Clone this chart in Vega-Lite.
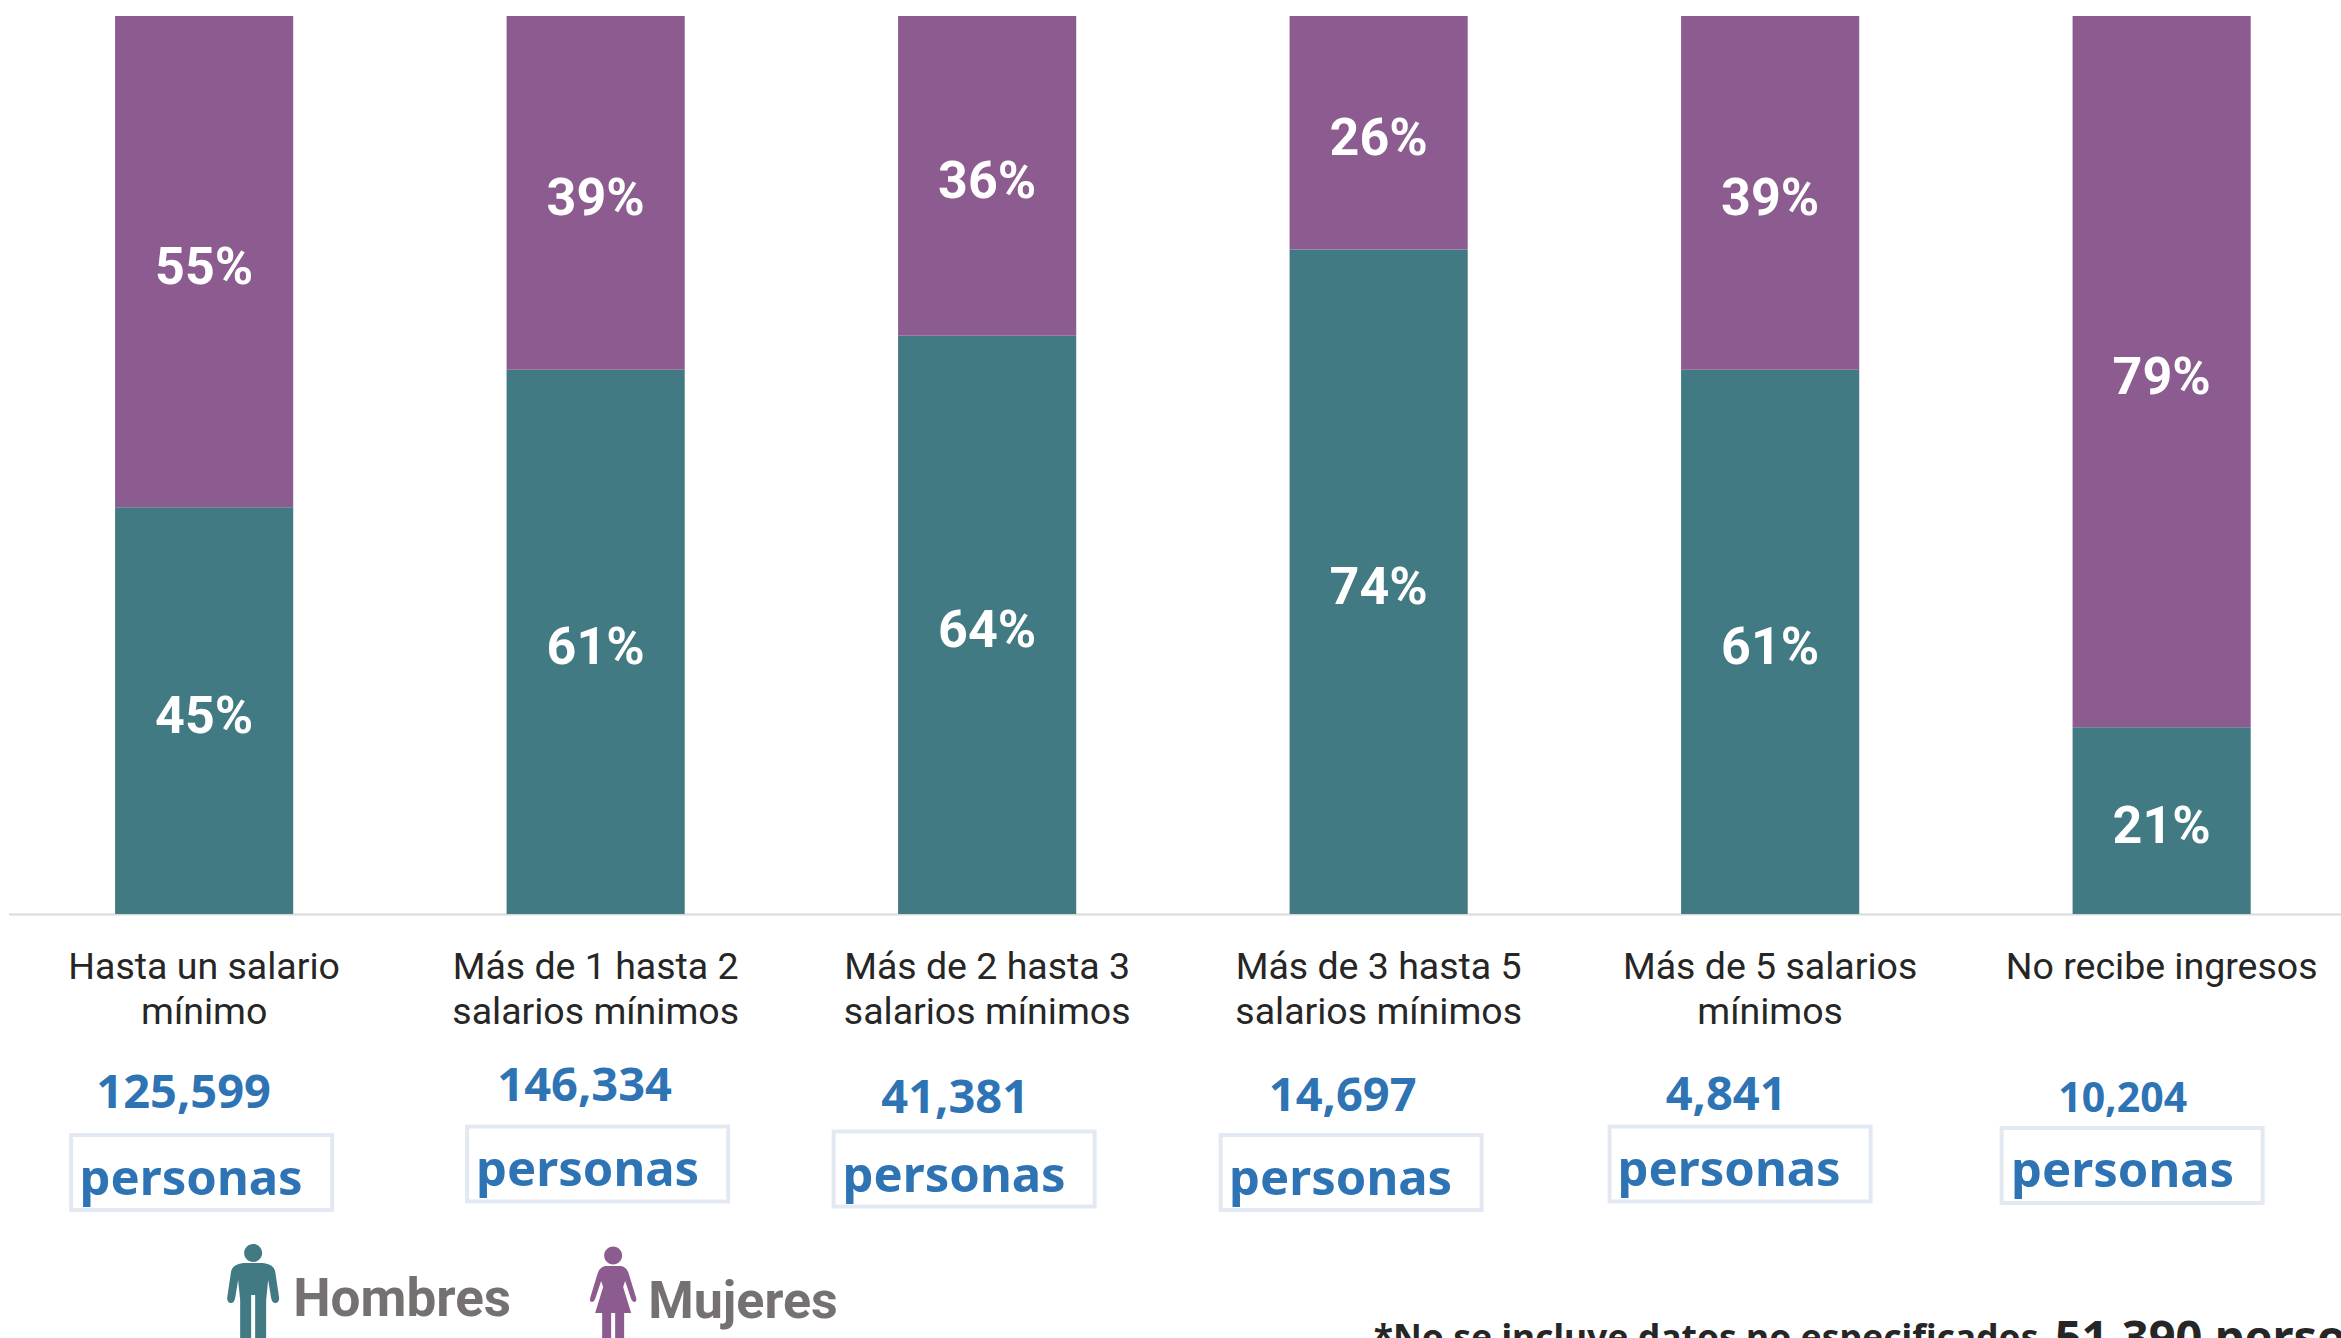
{"$schema":"https://vega.github.io/schema/vega-lite/v6.json","width":2341,"height":898,"autosize":"none","padding":{"left":0,"right":0,"top":16,"bottom":424},"background":"white","config":{"view":{"stroke":null}},
"datasets":{"shares":[
{"income":"Hasta un salario|mínimo","sex":"Hombres","share":0.453},{"income":"Hasta un salario|mínimo","sex":"Mujeres","share":0.547},
{"income":"Más de 1 hasta 2|salarios mínimos","sex":"Hombres","share":0.606},{"income":"Más de 1 hasta 2|salarios mínimos","sex":"Mujeres","share":0.394},
{"income":"Más de 2 hasta 3|salarios mínimos","sex":"Hombres","share":0.644},{"income":"Más de 2 hasta 3|salarios mínimos","sex":"Mujeres","share":0.356},
{"income":"Más de 3 hasta 5|salarios mínimos","sex":"Hombres","share":0.74},{"income":"Más de 3 hasta 5|salarios mínimos","sex":"Mujeres","share":0.26},
{"income":"Más de 5 salarios|mínimos","sex":"Hombres","share":0.606},{"income":"Más de 5 salarios|mínimos","sex":"Mujeres","share":0.394},
{"income":"No recibe ingresos","sex":"Hombres","share":0.208},{"income":"No recibe ingresos","sex":"Mujeres","share":0.792}],
"totals":[{"income":"Hasta un salario|mínimo","persons":125599},{"income":"Más de 1 hasta 2|salarios mínimos","persons":146334},{"income":"Más de 2 hasta 3|salarios mínimos","persons":41381},{"income":"Más de 3 hasta 5|salarios mínimos","persons":14697},{"income":"Más de 5 salarios|mínimos","persons":4841},{"income":"No recibe ingresos","persons":10204}],
"legendA":[{"income":"Hasta un salario|mínimo","sex":"Hombres"}],"legendB":[{"income":"Hasta un salario|mínimo","sex":"Mujeres"}],
"noteA":[{"income":"No recibe ingresos","note":"*No se incluye datos no especificados,"}],"noteB":[{"income":"No recibe ingresos","note":"51,390 personas"}]},
"encoding":{"x":{"field":"income","type":"nominal","sort":null,"title":null,"scale":{"domain":["Hasta un salario|mínimo","Más de 1 hasta 2|salarios mínimos","Más de 2 hasta 3|salarios mínimos","Más de 3 hasta 5|salarios mínimos","Más de 5 salarios|mínimos","No recibe ingresos"],"range":[8.4,2357.4],"paddingInner":0.545,"paddingOuter":0.2725},"axis":{"labelExpr":"split(datum.label,'|')","labelAngle":0,"labelFont":"Roboto","labelFontSize":37.5,"labelColor":"#262626","labelLineHeight":45,"labelPadding":34,"labelLimit":0,"ticks":false,"domainColor":"#d9d9d9","domainWidth":2,"title":null,"labelBaseline":"top"}}},
"layer":[
{"data":{"name":"shares"},"mark":{"type":"bar"},"encoding":{"y":{"field":"share","type":"quantitative","stack":"zero","axis":null,"scale":{"domain":[0,1],"nice":false}},"color":{"field":"sex","type":"nominal","legend":null,"scale":{"domain":["Hombres","Mujeres"],"range":["#427a83","#8c5c91"]}},"order":{"field":"sex","type":"nominal","sort":"ascending"}}},
{"data":{"name":"shares"},"mark":{"type":"text","font":"Roboto","fontWeight":"bold","fontSize":52,"color":"white","baseline":"middle","dy":6},"encoding":{"y":{"field":"share","type":"quantitative","stack":"zero","bandPosition":0.5,"axis":null,"scale":{"domain":[0,1],"nice":false}},"text":{"field":"share","type":"quantitative","format":".0%"},"order":{"field":"sex","type":"nominal","sort":"ascending"},"detail":{"field":"sex"}}},
{"encoding":{"y":{"datum":0,"type":"quantitative","scale":{"domain":[0,1],"nice":false},"axis":null}},"layer":[
{"data":{"name":"totals"},"transform":[{"filter":"datum.persons==125599"}],"mark":{"type":"point","shape":"M-1,-.287H1V.287H-1Z","size":68121,"filled":false,"stroke":"#e3e9f3","strokeWidth":4,"opacity":1,"xOffset":-2.5,"yOffset":258.5}},
{"data":{"name":"totals"},"transform":[{"filter":"datum.persons==146334"}],"mark":{"type":"point","shape":"M-1,-.287H1V.287H-1Z","size":68121,"filled":false,"stroke":"#e3e9f3","strokeWidth":4,"opacity":1,"xOffset":2,"yOffset":250}},
{"data":{"name":"totals"},"transform":[{"filter":"datum.persons==41381"}],"mark":{"type":"point","shape":"M-1,-.287H1V.287H-1Z","size":68121,"filled":false,"stroke":"#e3e9f3","strokeWidth":4,"opacity":1,"xOffset":-23,"yOffset":255}},
{"data":{"name":"totals"},"transform":[{"filter":"datum.persons==14697"}],"mark":{"type":"point","shape":"M-1,-.287H1V.287H-1Z","size":68121,"filled":false,"stroke":"#e3e9f3","strokeWidth":4,"opacity":1,"xOffset":-27.5,"yOffset":258.5}},
{"data":{"name":"totals"},"transform":[{"filter":"datum.persons==4841"}],"mark":{"type":"point","shape":"M-1,-.287H1V.287H-1Z","size":68121,"filled":false,"stroke":"#e3e9f3","strokeWidth":4,"opacity":1,"xOffset":-30,"yOffset":250}},
{"data":{"name":"totals"},"transform":[{"filter":"datum.persons==10204"}],"mark":{"type":"point","shape":"M-1,-.287H1V.287H-1Z","size":68121,"filled":false,"stroke":"#e3e9f3","strokeWidth":4,"opacity":1,"xOffset":-29.5,"yOffset":251.5}},

{"data":{"name":"totals"},"transform":[{"filter":"datum.persons==125599"}],"mark":{"type":"text","font":"Noto Sans","fontWeight":"bold","fontSize":47,"color":"#2e74b5","baseline":"alphabetic","dx":-20.5,"dy":194},"encoding":{"text":{"field":"persons","format":",d","type":"quantitative"}}},
{"data":{"name":"totals"},"transform":[{"filter":"datum.persons==146334"}],"mark":{"type":"text","font":"Noto Sans","fontWeight":"bold","fontSize":47,"color":"#2e74b5","baseline":"alphabetic","dx":-11,"dy":187},"encoding":{"text":{"field":"persons","format":",d","type":"quantitative"}}},
{"data":{"name":"totals"},"transform":[{"filter":"datum.persons==41381"}],"mark":{"type":"text","font":"Noto Sans","fontWeight":"bold","fontSize":47,"color":"#2e74b5","baseline":"alphabetic","dx":-32,"dy":199},"encoding":{"text":{"field":"persons","format":",d","type":"quantitative"}}},
{"data":{"name":"totals"},"transform":[{"filter":"datum.persons==14697"}],"mark":{"type":"text","font":"Noto Sans","fontWeight":"bold","fontSize":47,"color":"#2e74b5","baseline":"alphabetic","dx":-36,"dy":197},"encoding":{"text":{"field":"persons","format":",d","type":"quantitative"}}},
{"data":{"name":"totals"},"transform":[{"filter":"datum.persons==4841"}],"mark":{"type":"text","font":"Noto Sans","fontWeight":"bold","fontSize":47,"color":"#2e74b5","baseline":"alphabetic","dx":-44,"dy":196},"encoding":{"text":{"field":"persons","format":",d","type":"quantitative"}}},
{"data":{"name":"totals"},"transform":[{"filter":"datum.persons==10204"}],"mark":{"type":"text","font":"Noto Sans","fontWeight":"bold","fontSize":41,"color":"#2e74b5","baseline":"alphabetic","dx":-39,"dy":198},"encoding":{"text":{"field":"persons","format":",d","type":"quantitative"}}},

{"data":{"name":"totals"},"transform":[{"filter":"datum.persons==125599"}],"mark":{"type":"text","text":"personas","font":"Noto Sans","fontWeight":"bold","fontSize":49,"color":"#2e74b5","baseline":"alphabetic","dx":-13,"dy":281}},
{"data":{"name":"totals"},"transform":[{"filter":"datum.persons==146334"}],"mark":{"type":"text","text":"personas","font":"Noto Sans","fontWeight":"bold","fontSize":49,"color":"#2e74b5","baseline":"alphabetic","dx":-8,"dy":272}},
{"data":{"name":"totals"},"transform":[{"filter":"datum.persons==41381"}],"mark":{"type":"text","text":"personas","font":"Noto Sans","fontWeight":"bold","fontSize":49,"color":"#2e74b5","baseline":"alphabetic","dx":-33,"dy":278}},
{"data":{"name":"totals"},"transform":[{"filter":"datum.persons==14697"}],"mark":{"type":"text","text":"personas","font":"Noto Sans","fontWeight":"bold","fontSize":49,"color":"#2e74b5","baseline":"alphabetic","dx":-38,"dy":281}},
{"data":{"name":"totals"},"transform":[{"filter":"datum.persons==4841"}],"mark":{"type":"text","text":"personas","font":"Noto Sans","fontWeight":"bold","fontSize":49,"color":"#2e74b5","baseline":"alphabetic","dx":-41,"dy":272}},
{"data":{"name":"totals"},"transform":[{"filter":"datum.persons==10204"}],"mark":{"type":"text","text":"personas","font":"Noto Sans","fontWeight":"bold","fontSize":49,"color":"#2e74b5","baseline":"alphabetic","dx":-39,"dy":273}},

{"data":{"name":"legendA"},"mark":{"type":"point","filled":true,"opacity":1,"color":"#427a83","strokeWidth":0,"size":10000,"xOffset":49,"yOffset":381,"clip":false,"shape":"M-.18,-.84A.18,.18 0 1,1 .18,-.84A.18,.18 0 1,1 -.18,-.84ZM-.2,-.64L.2,-.64Q.4,-.62 .44,-.48L.52,.06Q.52,.16 .44,.16Q.38,.16 .36,.06L.3,-.3L.26,.1L.26,.9L.04,.9L.04,0L-.04,0L-.04,.9L-.26,.9L-.26,.1L-.3,-.3L-.36,.06Q-.38,.16 -.44,.16Q-.52,.16 -.52,.06L-.44,-.48Q-.4,-.62 -.2,-.64Z"}},
{"data":{"name":"legendB"},"mark":{"type":"point","filled":true,"opacity":1,"color":"#8c5c91","strokeWidth":0,"size":10000,"xOffset":409,"yOffset":381,"clip":false,"shape":"M-.18,-.79A.18,.18 0 1,1 .18,-.79A.18,.18 0 1,1 -.18,-.79ZM-.16,-.58L.16,-.58Q.28,-.56 .32,-.4L.46,.06Q.48,.14 .42,.14Q.38,.14 .36,.08L.24,-.28L.2,-.16L.36,.36L.22,.36L.22,.9L.04,.9L.04,.36L-.04,.36L-.04,.9L-.22,.9L-.22,.36L-.36,.36L-.2,-.16L-.24,-.28L-.36,.08Q-.38,.14 -.42,.14Q-.48,.14 -.46,.06L-.32,-.4Q-.28,-.56 -.16,-.58Z"}},
{"data":{"name":"legendA"},"mark":{"type":"text","font":"Roboto","fontWeight":"bold","fontSize":53,"color":"#767171","align":"left","baseline":"alphabetic","dx":89,"dy":402},"encoding":{"text":{"field":"sex"}}},
{"data":{"name":"legendB"},"mark":{"type":"text","font":"Roboto","fontWeight":"bold","fontSize":52,"color":"#767171","align":"left","baseline":"alphabetic","dx":444,"dy":404},"encoding":{"text":{"field":"sex"}}},
{"data":{"name":"noteA"},"mark":{"type":"text","font":"Noto Sans","fontWeight":"bold","fontSize":35.5,"color":"#262626","align":"left","baseline":"alphabetic","dx":-788,"dy":436},"encoding":{"text":{"field":"note"}}},
{"data":{"name":"noteB"},"mark":{"type":"text","font":"Noto Sans","fontWeight":"bold","fontSize":47,"color":"#262626","align":"left","baseline":"alphabetic","dx":-107,"dy":440},"encoding":{"text":{"field":"note"}}}
]}
]}
